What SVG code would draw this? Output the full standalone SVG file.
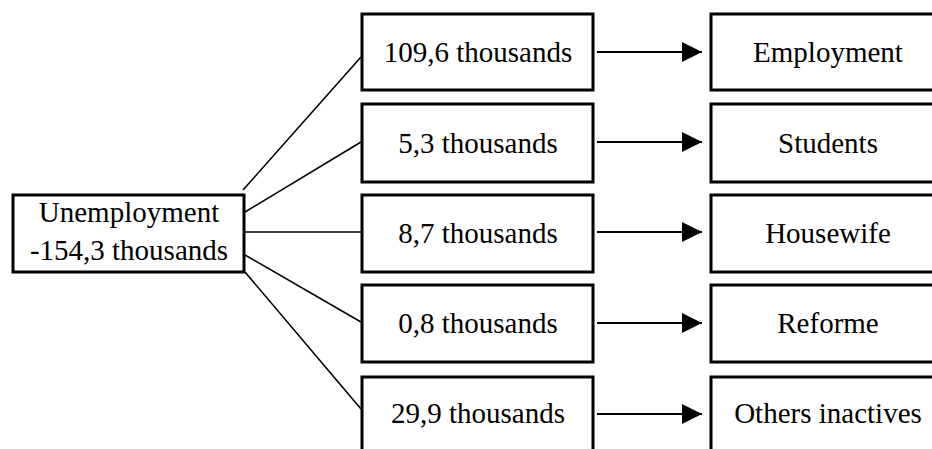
<svg xmlns="http://www.w3.org/2000/svg" width="932" height="449" viewBox="0 0 932 449">
<style>
.box{fill:#fff;stroke:#000;stroke-width:3}
.t{font-family:"Liberation Serif","Times New Roman",serif;font-size:29px;fill:#000;text-anchor:middle}
.ln{stroke:#000;stroke-width:1.6;fill:none}
.ar{stroke:#000;stroke-width:2;fill:none}
</style>
<defs>
<marker id="ah" viewBox="0 0 20 20" refX="20" refY="10" markerWidth="20" markerHeight="20" markerUnits="userSpaceOnUse" orient="auto">
<path d="M0,0 L20,10 L0,20 Z" fill="#000"/>
</marker>
</defs>
<rect width="932" height="449" fill="#fff"/>
<g id="connectors">
<line class="ln" x1="243" y1="190" x2="361" y2="57"/>
<line class="ln" x1="245" y1="212" x2="361" y2="142"/>
<line class="ln" x1="245" y1="232" x2="361" y2="232"/>
<line class="ln" x1="245" y1="255" x2="361" y2="322"/>
<line class="ln" x1="245" y1="272" x2="361" y2="409"/>
<line class="ar" x1="597" y1="52" x2="702" y2="52" marker-end="url(#ah)"/>
<line class="ar" x1="597" y1="142" x2="702" y2="142" marker-end="url(#ah)"/>
<line class="ar" x1="597" y1="232" x2="702" y2="232" marker-end="url(#ah)"/>
<line class="ar" x1="597" y1="323" x2="702" y2="323" marker-end="url(#ah)"/>
<line class="ar" x1="597" y1="414" x2="702" y2="414" marker-end="url(#ah)"/>
</g>
<g id="unemployment">
<rect class="box" x="13" y="195" width="231" height="77"/>
<text class="t" x="129" y="222">Unemployment</text>
<text class="t" x="129" y="260">-154,3 thousands</text>
</g>
<g id="m1"><rect class="box" x="362" y="14" width="231" height="76"/><text class="t" x="478" y="62">109,6 thousands</text></g>
<g id="m2"><rect class="box" x="362" y="104" width="231" height="78"/><text class="t" x="478" y="153">5,3 thousands</text></g>
<g id="m3"><rect class="box" x="362" y="195" width="231" height="77"/><text class="t" x="478" y="243">8,7 thousands</text></g>
<g id="m4"><rect class="box" x="362" y="285" width="231" height="77"/><text class="t" x="478" y="333">0,8 thousands</text></g>
<g id="m5"><rect class="box" x="362" y="377" width="231" height="90"/><text class="t" x="478" y="423">29,9 thousands</text></g>
<g id="r1"><rect class="box" x="711" y="14" width="240" height="76"/><text class="t" x="828" y="62">Employment</text></g>
<g id="r2"><rect class="box" x="711" y="104" width="240" height="78"/><text class="t" x="828" y="153">Students</text></g>
<g id="r3"><rect class="box" x="711" y="195" width="240" height="77"/><text class="t" x="828" y="243">Housewife</text></g>
<g id="r4"><rect class="box" x="711" y="285" width="240" height="77"/><text class="t" x="828" y="333">Reforme</text></g>
<g id="r5"><rect class="box" x="711" y="377" width="240" height="90"/><text class="t" x="828" y="423">Others inactives</text></g>
</svg>
